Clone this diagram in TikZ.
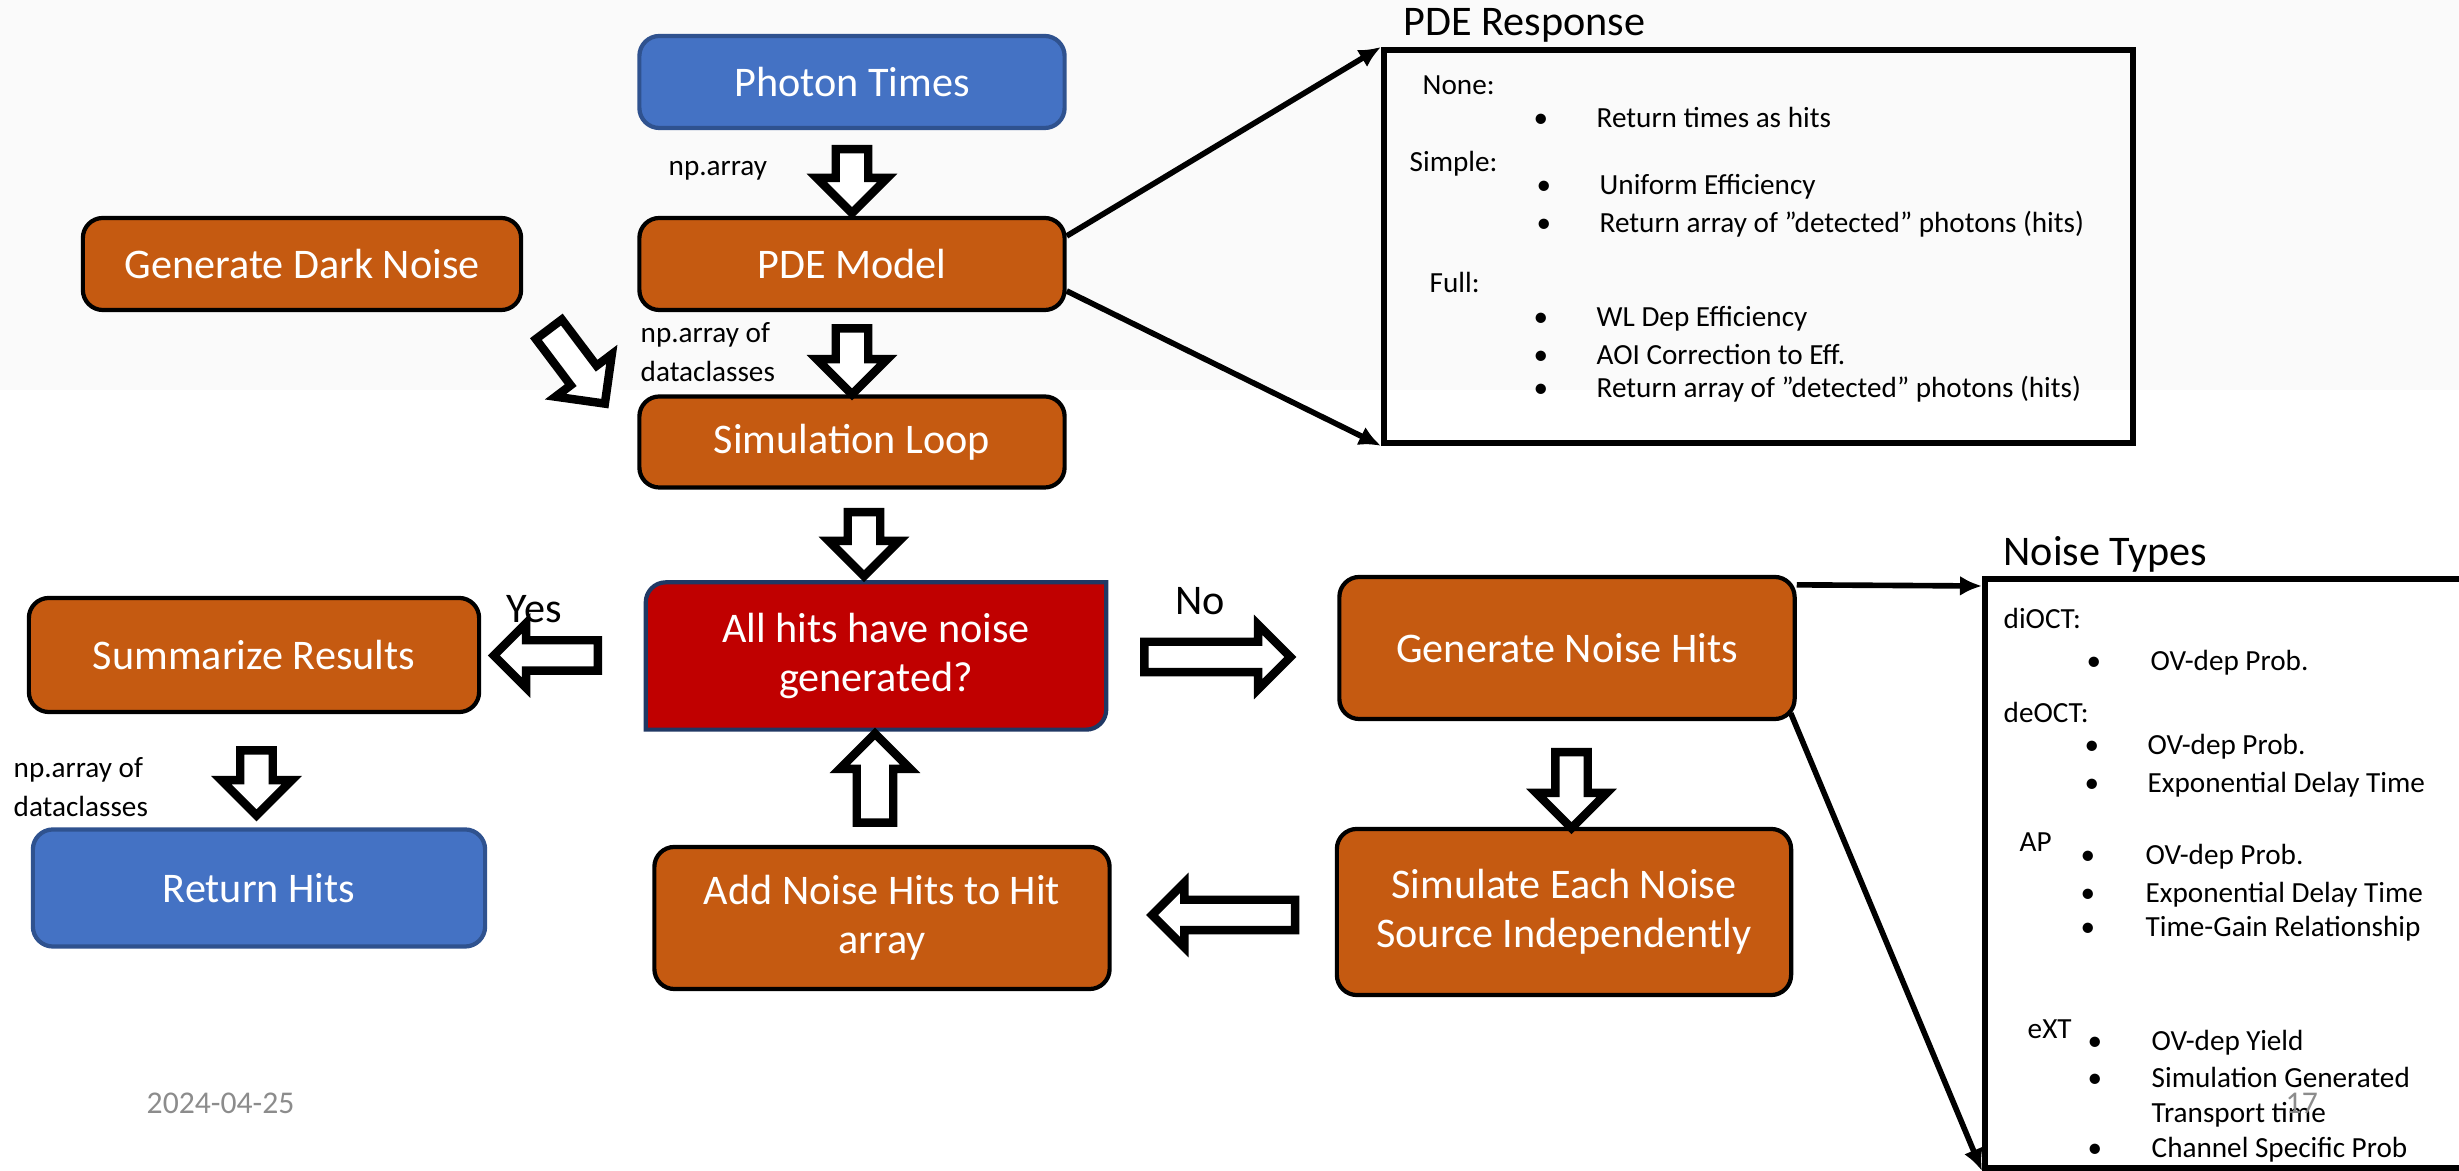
\documentclass[tikz,border=0pt]{standalone}
\usepackage{fontspec}
\setmainfont{Carlito}
\usepackage{tikz}
\usetikzlibrary{positioning, backgrounds, calc, shapes.arrows, arrows.meta}

\definecolor{procorange}{HTML}{C55A11}
\definecolor{termblue}{HTML}{4472C4}
\definecolor{termedge}{HTML}{2F528F}
\definecolor{decred}{HTML}{C00000}
\definecolor{decedge}{HTML}{203864}
\definecolor{slidegray}{HTML}{FAFAFA}
\definecolor{footgray}{HTML}{8C8C8C}

\begin{document}
\begin{tikzpicture}[
    x=0.01cm, y=-0.01cm,
    flowbox/.style={
        rectangle, rounded corners=0.2cm, line width=1.2pt,
        text=white, align=center, inner sep=2pt,
        font=\fontsize{12}{14}\selectfont},
    procbox/.style={flowbox, fill=procorange, draw=black},
    termbox/.style={flowbox, fill=termblue, draw=termedge},
    decbox/.style={flowbox, rounded corners=0pt},
    blockarr/.style={
        single arrow, draw=black, fill=white, line width=2.4pt,
        inner xsep=0pt, inner ysep=0.12cm,
        single arrow head extend=0.19cm, minimum height=#1},
    thinarr/.style={-{Latex[length=2.2mm, width=2mm]}, line width=1.6pt},
    infobox/.style={
        rectangle, draw=black, line width=1.6pt,
        anchor=north west, inner sep=0pt},
    boxtitle/.style={anchor=base west, inner sep=0pt,
        font=\fontsize{12}{14}\selectfont},
    itemtxt/.style={anchor=base west, inner sep=0pt,
        font=\fontsize{8.3}{10}\selectfont},
    bultxt/.style={anchor=base, inner sep=0pt,
        font=\fontsize{8.3}{10}\selectfont},
    datalbl/.style={anchor=west, inner sep=0pt, align=left,
        font=\fontsize{8.3}{10.9}\selectfont},
    answer/.style={anchor=base west, inner sep=0pt,
        font=\fontsize{12}{14}\selectfont},
    foottxt/.style={anchor=base west, inner sep=0pt, text=footgray,
        font=\fontsize{9}{11}\selectfont}
]
\useasboundingbox (0,0) rectangle (2459,1171);

%% ── Slide background band ───────────────────────────────────────
\begin{scope}[on background layer]
\fill[slidegray] (0,0) rectangle (2459,390);
\end{scope}

%% ── Input side ──────────────────────────────────────────────────
\node[termbox, minimum width=4.25cm, minimum height=0.92cm] (photon) at (852,82) {Photon Times};
\node[procbox, minimum width=4.25cm, minimum height=0.92cm] (pde)    at (852,264) {PDE Model};
\node[procbox, minimum width=4.38cm, minimum height=0.92cm] (dark)   at (302,264) {Generate Dark Noise};
\node[procbox, minimum width=4.25cm, minimum height=0.91cm] (simloop) at (852,442) {Simulation Loop};

%% ── Loop ────────────────────────────────────────────────────────
\node[decbox, minimum width=4.56cm, minimum height=1.43cm] (dec) at (876,656)
    {All hits have noise\\generated?};
\node[procbox, minimum width=4.55cm, minimum height=1.42cm] (gen) at (1567,648) {Generate Noise Hits};
\node[procbox, minimum width=4.54cm, minimum height=1.66cm] (sim) at (1564,912)
    {Simulate Each Noise\\Source Independently};
\node[procbox, minimum width=4.55cm, minimum height=1.42cm] (add) at (882,918)
    {Add Noise Hits to Hit\\array};

%% ── Output side ─────────────────────────────────────────────────
\node[procbox, minimum width=4.50cm, minimum height=1.14cm] (summ) at (254,655) {Summarize Results};
\node[termbox, minimum width=4.52cm, minimum height=1.17cm] (ret)  at (259,888) {Return Hits};

%% ── Decision shape (two rounded corners) ────────────────────────
\begin{scope}[on background layer]
\draw[fill=decred, draw=decedge, line width=1.2pt]
    (dec.south west) -- ([yshift=-0.2cm]dec.north west)
    arc[start angle=180, end angle=90, radius=0.2cm]
    -- (dec.north east) -- ([yshift=0.2cm]dec.south east)
    arc[start angle=0, end angle=-90, radius=0.2cm] -- cycle;
\end{scope}

%% ── Block arrows ────────────────────────────────────────────────
\node[blockarr=0.64cm, rotate=-90] (a1) at ($(photon.south)!0.5!(pde.north)$) {};
\node[blockarr=0.66cm, rotate=-90] (a2) at ($(pde.south)!0.5!(simloop.north)$) {};
\node[blockarr=0.93cm, rotate=-53] (a3) at (572,360) {};
\node[blockarr=0.64cm, rotate=-90] (a4) at ($(simloop.south)!0.5!(dec.north)$) {};
\node[blockarr=1.04cm, rotate=180, inner ysep=0.11cm, single arrow head extend=0.17cm]
    (a5) at ([xshift=-0.1cm]$(dec.west)!0.5!(summ.east)$) {};
\node[blockarr=1.46cm, inner ysep=0.11cm, single arrow head extend=0.17cm]
    (a6) at ([xshift=-0.12cm,yshift=-0.05cm]$(dec.east)!0.5!(gen.west)$) {};
\node[blockarr=0.76cm, rotate=-90] (a7) at ([xshift=0.06cm,yshift=-0.08cm]$(gen.south)!0.5!(sim.north)$) {};
\node[blockarr=1.43cm, rotate=180, inner ysep=0.11cm, single arrow head extend=0.17cm]
    (a8) at ([xshift=0.08cm]$(sim.west)!0.5!(add.east)$) {};
\node[blockarr=0.89cm, rotate=90, inner ysep=0.14cm, single arrow head extend=0.17cm]
    (a9) at ([xshift=-0.04cm]$(add.north)!0.5!(dec.south)$) {};
\node[blockarr=0.65cm, rotate=-90] (a10) at ([yshift=-0.04cm]$(summ.south)!0.5!(ret.north)$) {};

%% ── Arrow labels ────────────────────────────────────────────────
\node[itemtxt] (lnp)  at (668,176) {np.array};
\node[datalbl] (ldc)  at (640,352) {np.array of\\dataclasses};
\node[datalbl] (ldc2) at (13,787) {np.array of\\dataclasses};
\node[answer]  (lyes) at (506,623) {Yes};
\node[answer]  (lno)  at (1175,615) {No};

%% ── PDE Response panel ──────────────────────────────────────────
\node[boxtitle] (pdetitle) at (1403,36) {PDE Response};
\node[infobox, minimum width=7.49cm, minimum height=3.93cm] (pderesp) at (1381,47) {};
\node[itemtxt] (pnone)   at (1422,95)  {None:};
\node[bultxt]  (pb1)     at (1541,128) {\textbullet};
\node[itemtxt] (pt1)     at (1596,128) {Return times as hits};
\node[itemtxt] (psimple) at (1409,172) {Simple:};
\node[bultxt]  (pb2)     at (1544,195) {\textbullet};
\node[itemtxt] (pt2)     at (1599,195) {Uniform Efficiency};
\node[bultxt]  (pb3)     at (1544,233) {\textbullet};
\node[itemtxt] (pt3)     at (1599,233) {Return array of ”detected” photons (hits)};
\node[itemtxt] (pfull)   at (1429,293) {Full:};
\node[bultxt]  (pb4)     at (1541,327) {\textbullet};
\node[itemtxt] (pt4)     at (1596,327) {WL Dep Efficiency};
\node[bultxt]  (pb5)     at (1541,365) {\textbullet};
\node[itemtxt] (pt5)     at (1596,365) {AOI Correction to Eff.};
\node[bultxt]  (pb6)     at (1541,398) {\textbullet};
\node[itemtxt] (pt6)     at (1596,398) {Return array of ”detected” photons (hits)};

\draw[thinarr] ([yshift=0.28cm]pde.east) -- (pderesp.north west);
\draw[thinarr] ([yshift=-0.27cm]pde.east) -- (pderesp.south west);

%% ── Noise Types panel ───────────────────────────────────────────
\node[boxtitle] (noisetitle) at (2003,566) {Noise Types};
\node[infobox, minimum width=5cm, minimum height=5.89cm] (noisebox) at (1982,576) {};
\node[itemtxt] (ndi)  at (2003,629) {diOCT:};
\node[bultxt]  (nb1)  at (2094,671) {\textbullet};
\node[itemtxt] (nt1)  at (2150,671) {OV-dep Prob.};
\node[itemtxt] (nde)  at (2003,723) {deOCT:};
\node[bultxt]  (nb2)  at (2092,755) {\textbullet};
\node[itemtxt] (nt2)  at (2147,755) {OV-dep Prob.};
\node[bultxt]  (nb3)  at (2092,793) {\textbullet};
\node[itemtxt] (nt3)  at (2147,793) {Exponential Delay Time};
\node[itemtxt] (nap)  at (2019,852) {AP};
\node[bultxt]  (nb4)  at (2088,865) {\textbullet};
\node[itemtxt] (nt4)  at (2145,865) {OV-dep Prob.};
\node[bultxt]  (nb5)  at (2088,903) {\textbullet};
\node[itemtxt] (nt5)  at (2145,903) {Exponential Delay Time};
\node[bultxt]  (nb6)  at (2088,937) {\textbullet};
\node[itemtxt] (nt6)  at (2145,937) {Time-Gain Relationship};
\node[itemtxt] (next) at (2027,1039) {eXT};
\node[bultxt]  (nb7)  at (2095,1051) {\textbullet};
\node[itemtxt] (nt7)  at (2151,1051) {OV-dep Yield};
\node[bultxt]  (nb8)  at (2095,1088) {\textbullet};
\node[itemtxt] (nt8)  at (2151,1088) {Simulation Generated};
\node[itemtxt] (nt9)  at (2151,1123) {Transport time};
\node[bultxt]  (nb9)  at (2095,1158) {\textbullet};
\node[itemtxt] (nt10) at (2151,1158) {Channel Specific Prob};

\draw[thinarr] ([yshift=-0.1cm]gen.north east) -- ([yshift=-0.1cm]noisebox.north west);
\draw[thinarr] ([xshift=-0.06cm,yshift=0.08cm]gen.south east) -- (noisebox.south west);

%% ── Footer ──────────────────────────────────────────────────────
\node[foottxt] (date) at (146,1114) {2024-04-25};
\node[foottxt] (page) at (2285,1114) {17};

\end{tikzpicture}
\end{document}
